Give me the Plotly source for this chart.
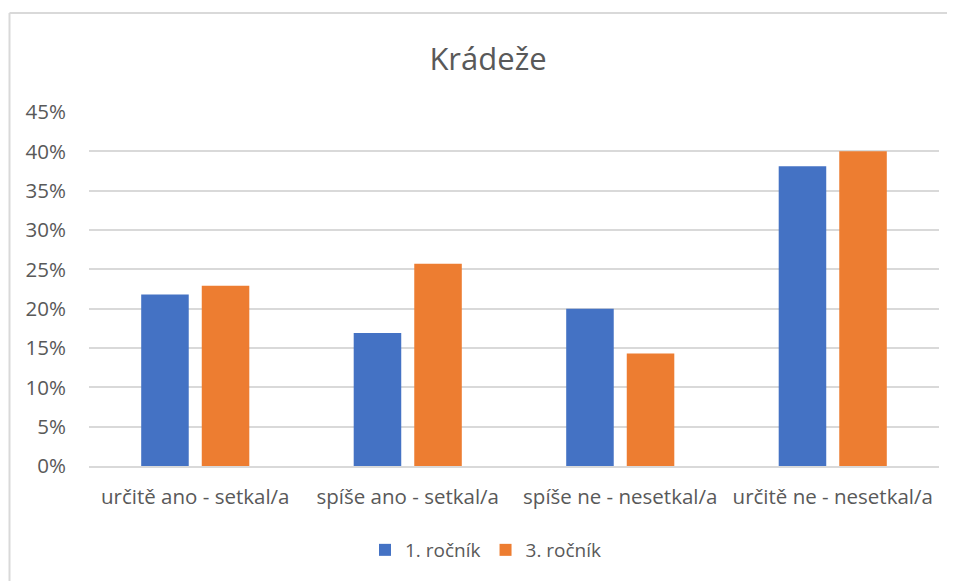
import plotly.graph_objects as go

categories = ["určitě ano - setkal/a", "spíše ano - setkal/a", "spíše ne - nesetkal/a", "určitě ne - nesetkal/a"]
series_names = ["1. ročník", "3. ročník"]
values_1 = [0.218, 0.169, 0.200, 0.381]
values_3 = [0.229, 0.257, 0.143, 0.400]
colors = ["#4472C4", "#ED7D31"]
tick_vals = [0, 0.05, 0.10, 0.15, 0.20, 0.25, 0.30, 0.35, 0.40, 0.45]
tick_text = ["0%", "5%", "10%", "15%", "20%", "25%", "30%", "35%", "40%", "45%"]

FONT = "Open Sans"
TXT = "#595959"

fig = go.Figure()
for name, vals, col in zip(series_names, [values_1, values_3], colors):
    fig.add_trace(go.Bar(x=categories, y=vals, name=name, marker=dict(color=col, line=dict(width=0))))

SW, SH = 955, 581   # screen size
OFF = 8             # page body margin
W, H = SW - OFF, SH - OFF
# desired on-screen plot area: x 89..939, y 112..466
SL, SR, ST, SB = 89, 939, 112, 466
L = SL - OFF
T = ST - OFF
R = W - (SR - OFF)
B = H - (SB - OFF)
pw = SR - SL
ph = SB - ST

def px_x(p):
    return (p - SL) / pw

def px_y(p):
    return (SB - p) / ph

border = dict(color="#d9d9d9", width=2)
fig.update_layout(
    width=W, height=H,
    margin=dict(l=L, r=R, t=T, b=B),
    paper_bgcolor="white", plot_bgcolor="white",
    barmode="group", bargap=0.43, bargroupgap=0.215,
    title=dict(text="Krádeže", x=(488 - OFF) / W, xanchor="center", xref="container",
               y=1 - (59 - OFF) / H, yref="container", yanchor="middle",
               font=dict(family=FONT, size=31, color=TXT)),
    font=dict(family=FONT, color=TXT),
    showlegend=True,
    legend=dict(orientation="h", x=px_x(486), xanchor="center", y=px_y(550), yanchor="middle",
                font=dict(family=FONT, size=19, color=TXT), itemwidth=30,
                traceorder="normal"),
    xaxis=dict(showgrid=False, showline=True, linecolor="#d9d9d9", linewidth=1.5,
               ticks="", ticklabelstandoff=12,
               tickfont=dict(family=FONT, size=20.5, color=TXT)),
    yaxis=dict(range=[0, 0.45], tickvals=tick_vals, ticktext=tick_text,
               showgrid=True, gridcolor="#d9d9d9", gridwidth=1.5, zeroline=False,
               showline=False, ticks="", ticklabelstandoff=22,
               tickfont=dict(family=FONT, size=20.5, color=TXT)),
    shapes=[
        dict(type="line", xref="paper", yref="paper",
             x0=px_x(9.5), x1=px_x(9.5), y0=px_y(13), y1=px_y(620), line=border, layer="below"),
        dict(type="line", xref="paper", yref="paper",
             x0=px_x(9.5), x1=px_x(1000), y0=px_y(13), y1=px_y(13), line=border, layer="below"),
    ],
)

fig.write_html("out.html")
